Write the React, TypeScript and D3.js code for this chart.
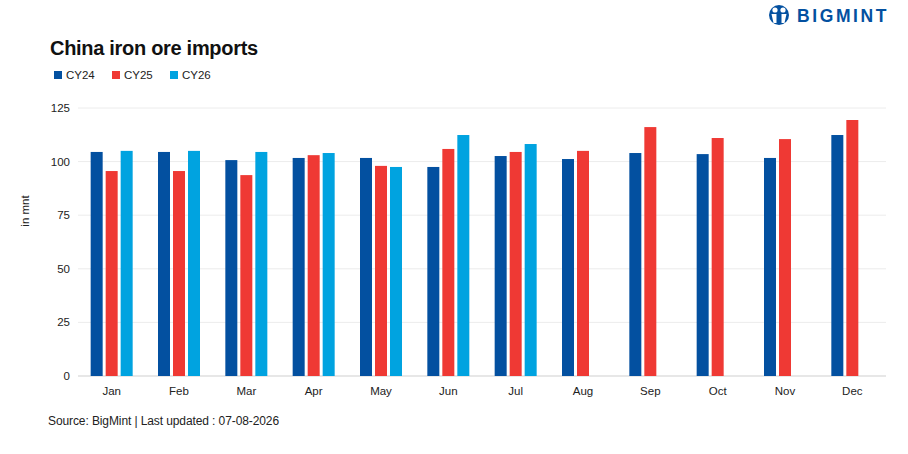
import React from "react";
import * as d3 from "d3";

const months = ["Jan", "Feb", "Mar", "Apr", "May", "Jun", "Jul", "Aug", "Sep", "Oct", "Nov", "Dec"];
const seriesNames = ["CY24", "CY25", "CY26"];
const cy24 = [104.5, 104.5, 100.7, 101.7, 101.7, 97.5, 102.6, 101.2, 104.0, 103.5, 101.7, 112.4];
const cy25 = [95.6, 95.6, 93.7, 103.0, 98.0, 105.9, 104.5, 105.0, 116.1, 111.0, 110.5, 119.4];
const cy26: (number | null)[] = [105.0, 105.0, 104.5, 104.0, 97.5, 112.4, 108.2, null, null, null, null, null];
const yTicks = [0, 25, 50, 75, 100, 125];
const colors = ["#0350a0", "#ef3934", "#00a3e0"];

const W = 908;
const H = 454;
const FONT = "'Liberation Sans', Arial, sans-serif";

export default function App() {
  const left = 78;
  const right = 886;
  const top = 108;
  const bottom = 376;
  const x = d3.scaleBand<string>().domain(months).range([left, right]).paddingInner(0).paddingOuter(0);
  const y = d3.scaleLinear().domain([0, 125]).range([bottom, top]);
  const bw = 12;
  const gap = 3;
  const series = [cy24, cy25, cy26];
  const groupW = bw * 3 + gap * 2;

  return (
    <svg width={W} height={H} style={{ position: "absolute", left: 0, top: 0, background: "#fff" }}>
      <g>
        <circle cx={779} cy={15} r={10} fill="#0350a0" />
        <circle cx={775} cy={10} r={2.6} fill="#fff" />
        <circle cx={783} cy={10} r={2.6} fill="#fff" />
        <path d="M771.5,14 h5 v9 h-3 z M781.5,14 h5 l-2,9 h-3 z" fill="#fff" />
        <text x={797} y={22} fontFamily={FONT} fontWeight={700} fontSize={17.5} letterSpacing={2.6} fill="#0350a0">
          BIGMINT
        </text>
      </g>
      <text x={50} y={55} fontFamily={FONT} fontWeight={700} fontSize={20} letterSpacing={-0.3} fill="#111">
        China iron ore imports
      </text>
      {seriesNames.map((n, i) => {
        const lx = [54, 112, 170][i];
        return (
          <g key={n}>
            <rect x={lx} y={71} width={8} height={8} fill={colors[i]} />
            <text x={lx + 12} y={79} fontFamily={FONT} fontSize={11.5} fill="#222">
              {n}
            </text>
          </g>
        );
      })}
      {yTicks.map((t) => (
        <g key={t}>
          <line x1={left} x2={right} y1={y(t)} y2={y(t)} stroke={t === 0 ? "#cfcfcf" : "#ececec"} strokeWidth={1} />
          <text x={70} y={y(t) + 4} textAnchor="end" fontFamily={FONT} fontSize={11.5} fill="#222">
            {t}
          </text>
        </g>
      ))}
      <text
        transform={`translate(29,${211}) rotate(-90)`}
        textAnchor="middle"
        fontFamily={FONT}
        fontSize={11.5}
        fill="#222"
      >
        in mnt
      </text>
      {months.map((m, mi) => {
        const cx = (x(m) as number) + x.bandwidth() / 2;
        const start = cx - groupW / 2;
        return (
          <g key={m}>
            {series.map((s, si) => {
              const v = s[mi];
              if (v == null) return null;
              return (
                <rect
                  key={si}
                  x={start + si * (bw + gap)}
                  y={y(v)}
                  width={bw}
                  height={y(0) - y(v)}
                  fill={colors[si]}
                />
              );
            })}
            <text x={cx} y={395} textAnchor="middle" fontFamily={FONT} fontSize={11.5} fill="#222">
              {m}
            </text>
          </g>
        );
      })}
      <text x={48} y={425} fontFamily={FONT} fontSize={12} letterSpacing={-0.1} fill="#222">
        Source: BigMint | Last updated : 07-08-2026
      </text>
    </svg>
  );
}
